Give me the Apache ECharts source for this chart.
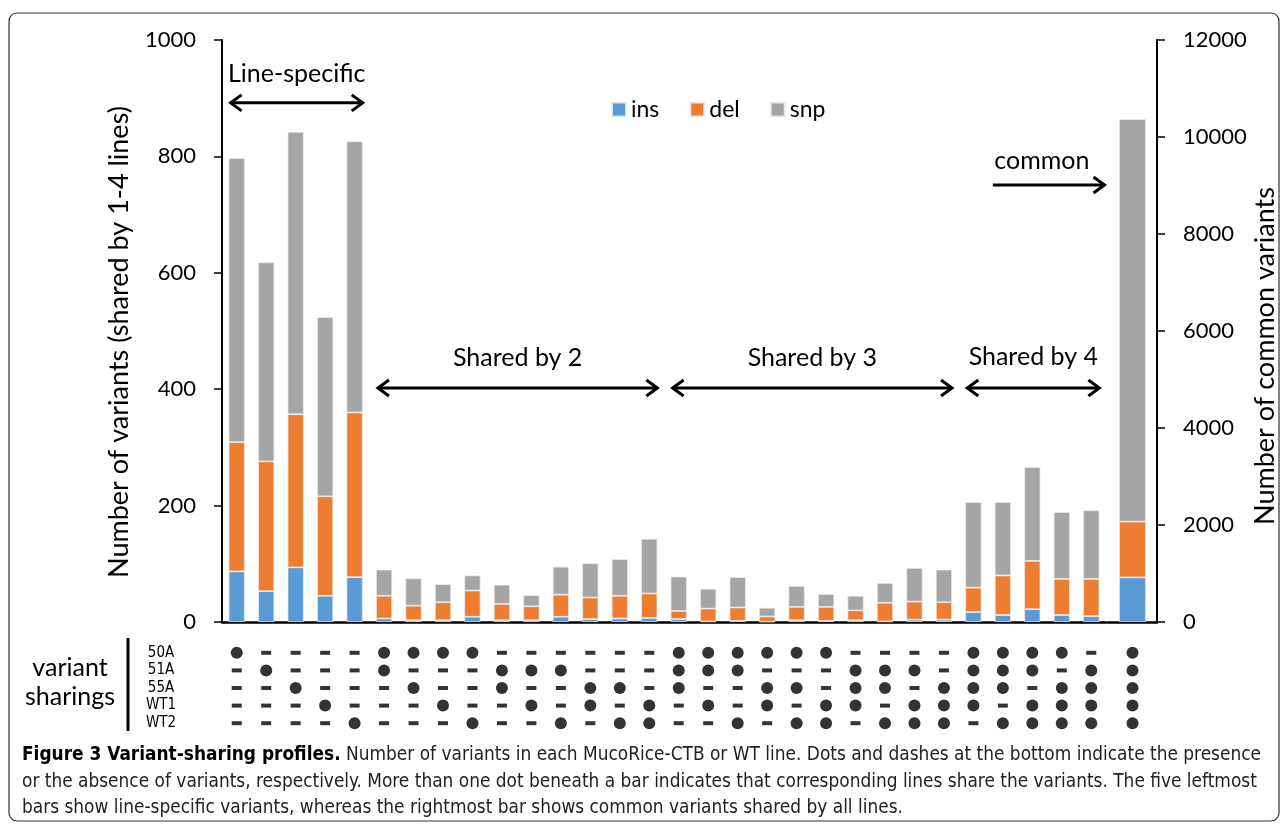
<!DOCTYPE html>
<html>
<head>
<meta charset="utf-8">
<script src="https://cdn.jsdelivr.net/npm/echarts@6/dist/echarts.min.js"></script>
<style>
  html, body { margin: 0; padding: 0; background: #fff; }
  #chart { width: 1282px; height: 825px; }
</style>
</head>
<body>
<div id="chart"></div>
<script>
// sharing pattern per bar (50A 51A 55A WT1 WT2), 1 = dot, 0 = dash
const sharing = ['10000', '01000', '00100', '00010', '00001',
  '11000', '10100', '10010', '10001', '01100', '01010', '01001', '00110', '00101', '00011',
  '11100', '11010', '11001', '10110', '10101', '10011', '01110', '01101', '01011', '00111',
  '11110', '11101', '11011', '10111', '01111'];
const commonSharing = ['11111'];
const lines = ['50A', '51A', '55A', 'WT1', 'WT2'];

// left axis bars (shared by 1-4 lines)
const insVals = [87, 53, 94, 45, 77, 6, 3, 3, 9, 3, 3, 9, 5, 6, 7,
  5, 1, 2, 0.5, 3, 2, 3, 1, 4, 4, 17, 12, 22, 12, 10];
const delVals = [222, 223, 263, 171, 283, 39, 25, 31, 45, 28, 24, 38, 37, 39, 42,
  14, 22, 23, 9, 23, 24, 17, 32, 31, 30, 42, 68, 83, 62, 64];
const snpVals = [488, 342, 485, 308, 466, 45, 47, 31, 26, 33, 19, 48, 59, 63, 94,
  59, 34, 52, 15, 36, 22, 25, 34, 58, 56, 147, 126, 161, 115, 118];

// right axis bar (common to all lines)
const commonIns = [920];
const commonDel = [1150];
const commonSnp = [8300];

const leftTicks = { min: 0, max: 1000, interval: 200 };
const rightTicks = { min: 0, max: 12000, interval: 2000 };

const colors = { ins: '#5B9BD5', del: '#ED7D31', snp: '#A5A5A5' };
const FONT = 'Lato, "Open Sans", sans-serif';
const NARROW = '"Liberation Sans Narrow", "DejaVu Sans Condensed", "Liberation Sans", sans-serif';

const chart = echarts.init(document.getElementById('chart'), null, { renderer: 'canvas' });

const axisLine = { show: true, lineStyle: { color: '#000', width: 2 } };
const plain = v => String(v);

function barSeries(name, data, idx, stack) {
  return {
    name: name, type: 'bar', stack: stack, data: data,
    xAxisIndex: idx, yAxisIndex: idx,
    barCategoryGap: '45%',
    itemStyle: { color: colors[name], borderColor: 'rgba(235,235,235,0.9)', borderWidth: 0.8 },
    emphasis: { disabled: true }
  };
}

// matrix points
function matrixPoints(patterns, want) {
  const out = [];
  patterns.forEach((p, i) => {
    for (let r = 0; r < lines.length; r++) {
      if (p[r] === want) out.push([i, r]);
    }
  });
  return out;
}

function dotSeries(idx, patterns) {
  return [
    { type: 'scatter', xAxisIndex: idx, yAxisIndex: idx, symbol: 'circle', symbolSize: 12,
      itemStyle: { color: '#000' }, data: matrixPoints(patterns, '1'), silent: true },
    { type: 'scatter', xAxisIndex: idx, yAxisIndex: idx, symbol: 'rect', symbolSize: [10, 4],
      itemStyle: { color: '#000' }, data: matrixPoints(patterns, '0'), silent: true }
  ];
}

const option = {
  animation: false,
  textStyle: { fontFamily: FONT, color: '#000' },
  legend: {
    data: ['ins', 'del', 'snp'],
    left: 606, top: 93,
    itemWidth: 14, itemHeight: 14, itemGap: 30,
    icon: 'rect',
    textStyle: { fontFamily: FONT, fontSize: 23, color: '#000' },
    selectedMode: false
  },
  grid: [
    { left: 222, right: 176, top: 40, bottom: 203 },
    { left: 1108, right: 125, top: 40, bottom: 203 },
    { left: 222, right: 176, top: 644, height: 88 },
    { left: 1108, right: 125, top: 644, height: 88 }
  ],
  xAxis: [
    { type: 'category', gridIndex: 0, data: sharing, axisLine: { show: true, lineStyle: { color: '#000', width: 2.5 } },
      axisTick: { show: false }, axisLabel: { show: false } },
    { type: 'category', gridIndex: 1, data: commonSharing, axisLine: { show: true, lineStyle: { color: '#000', width: 2.5 } },
      axisTick: { show: false }, axisLabel: { show: false } },
    { type: 'category', gridIndex: 2, data: sharing, axisLine: { show: false }, axisTick: { show: false }, axisLabel: { show: false } },
    { type: 'category', gridIndex: 3, data: commonSharing, axisLine: { show: false }, axisTick: { show: false }, axisLabel: { show: false } }
  ],
  yAxis: [
    { type: 'value', gridIndex: 0, position: 'left', min: leftTicks.min, max: leftTicks.max, interval: leftTicks.interval,
      name: 'Number of variants (shared by 1-4 lines)', nameLocation: 'middle', nameGap: 89, nameRotate: 90,
      nameTextStyle: { fontSize: 27, color: '#000', fontFamily: FONT, padding: [0, 0, 0, -22] },
      axisLine: axisLine, axisTick: { show: true, inside: false, length: 8, lineStyle: { color: '#000', width: 1.5 } },
      axisLabel: { fontSize: 22, color: '#000', margin: 26, fontFamily: FONT, formatter: plain },
      splitLine: { show: false } },
    { type: 'value', gridIndex: 1, position: 'right', min: rightTicks.min, max: rightTicks.max, interval: rightTicks.interval,
      name: 'Number of common variants', nameLocation: 'middle', nameGap: 95, nameRotate: 90,
      nameTextStyle: { fontSize: 27, color: '#000', fontFamily: FONT, padding: [0, 0, 0, -50] },
      axisLine: axisLine, axisTick: { show: true, inside: false, length: 8, lineStyle: { color: '#000', width: 1.5 } },
      axisLabel: { fontSize: 22, color: '#000', margin: 26, fontFamily: FONT, formatter: plain },
      splitLine: { show: false } },
    { type: 'category', gridIndex: 2, data: lines, inverse: true,
      axisLine: { show: false }, axisTick: { show: false },
      axisLabel: { interval: 0, fontSize: 15, color: '#000', margin: 61, fontFamily: NARROW, align: 'center' } },
    { type: 'category', gridIndex: 3, data: lines, inverse: true,
      axisLine: { show: false }, axisTick: { show: false }, axisLabel: { show: false } }
  ],
  series: [
    barSeries('ins', insVals, 0, 'left'),
    barSeries('del', delVals, 0, 'left'),
    barSeries('snp', snpVals, 0, 'left'),
    barSeries('ins', commonIns, 1, 'right'),
    barSeries('del', commonDel, 1, 'right'),
    barSeries('snp', commonSnp, 1, 'right')
  ].concat(dotSeries(2, sharing), dotSeries(3, commonSharing))
};

chart.setOption(option);

// annotation arrows placed from the axes
const groups = [
  { text: 'Line-specific', from: 0, to: 4, arrowY: 892, textY: 942 },
  { text: 'Shared by 2', from: 5, to: 14, arrowY: 402, textY: 454 },
  { text: 'Shared by 3', from: 15, to: 24, arrowY: 402, textY: 454 },
  { text: 'Shared by 4', from: 25, to: 29, arrowY: 402, textY: 456 }
];

const px = i => chart.convertToPixel({ xAxisIndex: 0 }, i);
const py = v => chart.convertToPixel({ yAxisIndex: 0 }, v);
const half = (px(1) - px(0)) * 0.55 / 2;
const TXT = '25px ' + FONT;

function arrowParts(x1, x2, y, leftHead) {
  const st = { stroke: '#000', lineWidth: 3, fill: null };
  const parts = [
    { type: 'line', shape: { x1: x1, y1: y, x2: x2, y2: y }, style: st },
    { type: 'polyline', shape: { points: [[x2 - 11, y - 8], [x2, y], [x2 - 11, y + 8]] }, style: st }
  ];
  if (leftHead) {
    parts.push({ type: 'polyline', shape: { points: [[x1 + 11, y - 8], [x1, y], [x1 + 11, y + 8]] }, style: st });
  }
  return parts;
}

let graphics = [];
groups.forEach(g => {
  const x1 = px(g.from) - half + 2;
  const x2 = px(g.to) + half;
  graphics = graphics.concat(arrowParts(x1, x2, py(g.arrowY), true));
  graphics.push({ type: 'text', x: (x1 + x2) / 2, y: py(g.textY),
    style: { text: g.text, font: TXT, fill: '#000', textAlign: 'center', textVerticalAlign: 'middle' } });
});

// "common" arrow pointing at the right bar
const commonLeft = chart.convertToPixel({ xAxisIndex: 1 }, 0) - 20;
graphics = graphics.concat(arrowParts(px(26) - 10, commonLeft - 8, py(751), false));
graphics.push({ type: 'text', x: px(26) + 39, y: py(792),
  style: { text: 'common', font: TXT, fill: '#000', textAlign: 'center', textVerticalAlign: 'middle' } });

// frame, matrix label and caption
graphics.push(
  { type: 'rect', shape: { x: 9, y: 13, width: 1270, height: 808, r: 8 },
    style: { stroke: '#333', lineWidth: 1.2, fill: null }, silent: true, z: -1 },
  { type: 'line', shape: { x1: 128, y1: 638, x2: 128, y2: 731 }, style: { stroke: '#000', lineWidth: 3 } },
  { type: 'text', x: 70, y: 668, style: { text: 'variant', font: TXT, fill: '#000', textAlign: 'center', textVerticalAlign: 'middle' } },
  { type: 'text', x: 70, y: 697, style: { text: 'sharings', font: TXT, fill: '#000', textAlign: 'center', textVerticalAlign: 'middle' } },
  { type: 'text', x: 22, y: 755,
    style: { text: '{b|Figure 3 Variant-sharing profiles.} Number of variants in each MucoRice-CTB or WT line. Dots and dashes at the bottom indicate the presence',
      font: '18.9px ' + NARROW, fill: '#222', textVerticalAlign: 'middle',
      rich: { b: { fontWeight: 'bold', fontSize: 18.9, fontFamily: NARROW, fill: '#000' } } } },
  { type: 'text', x: 22, y: 782,
    style: { text: 'or the absence of variants, respectively. More than one dot beneath a bar indicates that corresponding lines share the variants. The five leftmost',
      font: '18.9px ' + NARROW, fill: '#222', textVerticalAlign: 'middle' } },
  { type: 'text', x: 22, y: 808,
    style: { text: 'bars show line-specific variants, whereas the rightmost bar shows common variants shared by all lines.',
      font: '18.9px ' + NARROW, fill: '#222', textVerticalAlign: 'middle' } }
);

chart.setOption({ graphic: graphics });
</script>
</body>
</html>
